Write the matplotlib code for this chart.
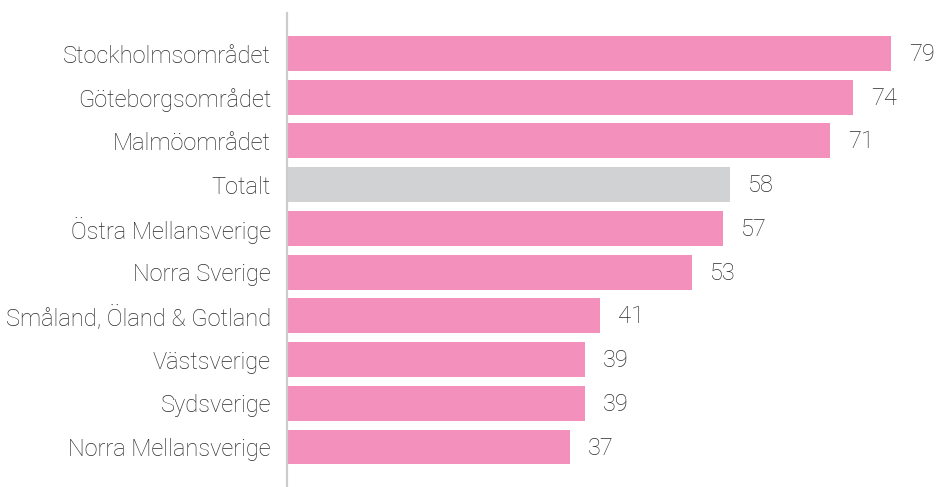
import matplotlib
matplotlib.use("Agg")
import matplotlib.pyplot as plt

categories = ["Stockholmsområdet", "Göteborgsområdet", "Malmöområdet", "Totalt",
              "Östra Mellansverige", "Norra Sverige", "Småland, Öland & Gotland",
              "Västsverige", "Sydsverige", "Norra Mellansverige"]
values = [79, 74, 71, 58, 57, 53, 41, 39, 39, 37]
highlight = "Totalt"

PINK = "#F391BC"
GREY = "#D1D2D4"
TEXT = "#2A2A2A"
FONT = "Roboto"

W, H = 937, 487
fig = plt.figure(figsize=(W / 100, H / 100), dpi=100)
ax_left, ax_top, ax_bottom = 287, 13, 487
ax = fig.add_axes([ax_left / W, 1 - ax_bottom / H, (W - ax_left) / W, (ax_bottom - ax_top) / H])

px_per_unit = (891 - 569) / (79 - 37)
ax.set_xlim(0, (W - ax_left) / px_per_unit * 1.003)
pitch = (447 - 53.5) / 9
ax.set_ylim(9 + (487 - 447) / pitch, -(53.5 - 13) / pitch)

ypos = list(range(len(categories)))
colors = [GREY if c == highlight else PINK for c in categories]
ax.barh(ypos, values, height=0.8, color=colors, zorder=2)

for y, v in zip(ypos, values):
    ax.annotate(f"{v}", (v, y), xytext=(18, -1), textcoords="offset pixels",
                va="center", ha="left", fontsize=17, color=TEXT, family=FONT, fontweight="light")

ax.set_yticks(ypos)
ax.set_yticklabels(categories, fontsize=17, color=TEXT, family=FONT, fontweight="light")
ax.tick_params(axis="y", length=0, pad=11.5)
ax.set_xticks([])
for s in ["top", "right", "bottom"]:
    ax.spines[s].set_visible(False)
ax.spines["left"].set_color("#CCCCCC")
ax.spines["left"].set_linewidth(1.6)

fig.savefig("out.png", dpi=100)
